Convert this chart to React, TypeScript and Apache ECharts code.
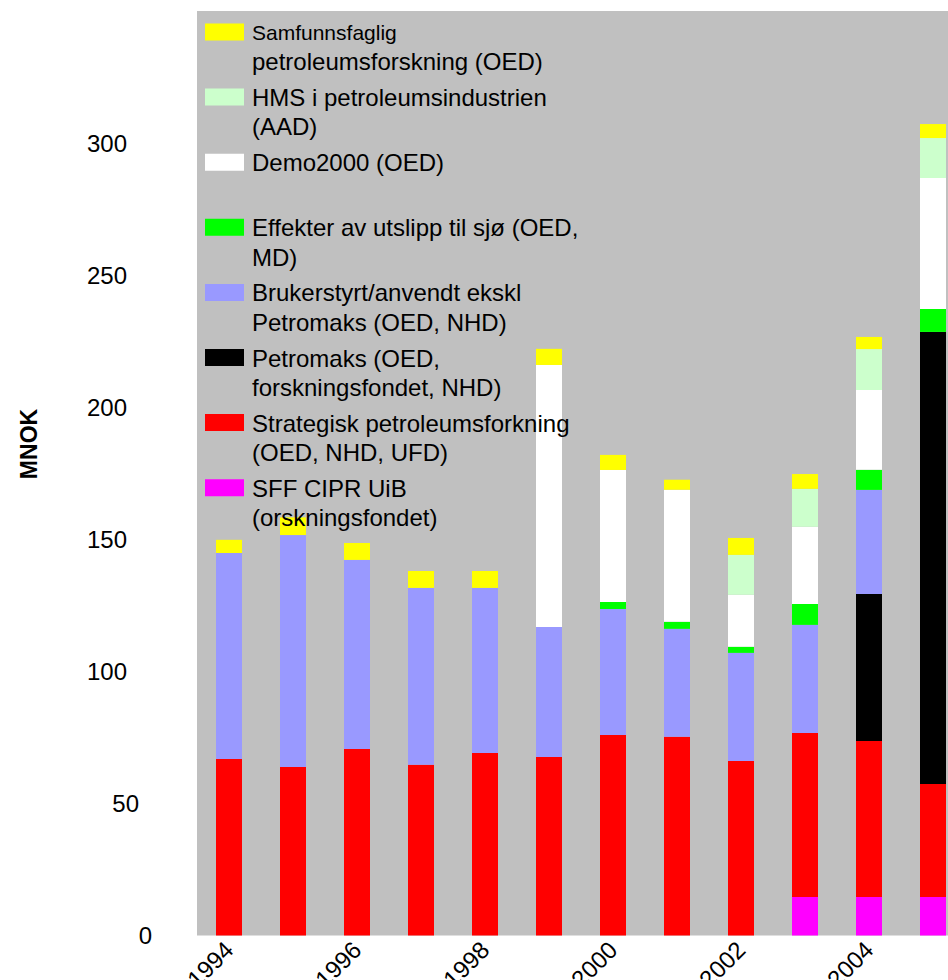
import React, { useEffect, useRef } from "react";
import * as echarts from "echarts";

const years = ["1994", "1995", "1996", "1997", "1998", "1999", "2000", "2001", "2002", "2003", "2004", "2005"];

// stack order: bottom to top
const sffCipr = [0, 0, 0, 0, 0, 0, 0, 0, 0, 14.6, 14.6, 14.6];
const strategisk = [66.8, 63.8, 70.6, 64.6, 69.1, 67.6, 75.9, 75.2, 66.1, 62.1, 59.0, 42.8];
const petromaks = [0, 0, 0, 0, 0, 0, 0, 0, 0, 0, 55.7, 171.1];
const brukerstyrt = [78.0, 87.8, 71.6, 67.0, 62.5, 49.2, 47.7, 40.9, 40.9, 40.9, 39.4, 0];
const effekter = [0, 0, 0, 0, 0, 0, 2.65, 2.65, 2.3, 7.9, 7.6, 8.7];
const demo2000 = [0, 0, 0, 0, 0, 99.2, 50.0, 50.0, 19.7, 29.2, 30.2, 49.6];
const hms = [0, 0, 0, 0, 0, 0, 0, 0, 15.1, 14.4, 15.5, 15.1];
const samfunnsfaglig = [5.0, 6.7, 6.4, 6.4, 6.4, 6.1, 5.7, 3.8, 6.4, 5.6, 4.6, 5.3];

const seriesNames = [
  "SFF CIPR UiB (orskningsfondet)",
  "Strategisk petroleumsforkning (OED, NHD, UFD)",
  "Petromaks (OED, forskningsfondet, NHD)",
  "Brukerstyrt/anvendt ekskl Petromaks (OED, NHD)",
  "Effekter av utslipp til sjø (OED, MD)",
  "Demo2000 (OED)",
  "HMS i petroleumsindustrien (AAD)",
  "Samfunnsfaglig petroleumsforskning (OED)",
];
const seriesData = [sffCipr, strategisk, petromaks, brukerstyrt, effekter, demo2000, hms, samfunnsfaglig];
const seriesColors = ["#FF00FF", "#FF0000", "#000000", "#9999FF", "#00FF00", "#FFFFFF", "#CCFFCC", "#FFFF00"];

// legend, top to bottom (index into series), with line-broken labels
const legendOrder = [7, 6, 5, 4, 3, 2, 1, 0];
const legendLines: Record<number, string[]> = {
  7: ["Samfunnsfaglig", "petroleumsforskning (OED)"],
  6: ["HMS i petroleumsindustrien", "(AAD)"],
  5: ["Demo2000 (OED)", ""],
  4: ["Effekter av utslipp til sjø (OED,", "MD)"],
  3: ["Brukerstyrt/anvendt ekskl", "Petromaks (OED, NHD)"],
  2: ["Petromaks (OED,", "forskningsfondet, NHD)"],
  1: ["Strategisk petroleumsforkning", "(OED, NHD, UFD)"],
  0: ["SFF CIPR UiB", "(orskningsfondet)"],
};

const FONT = "'Liberation Sans', Arial, Helvetica, sans-serif";

export default function App() {
  const ref = useRef<HTMLDivElement>(null);
  useEffect(() => {
    if (!ref.current) return;
    const chart = echarts.init(ref.current, undefined, { renderer: "svg" });

    const graphics: any[] = [];
    legendOrder.forEach((idx, pos) => {
      const cy = 32.5 + 65.1 * pos;
      graphics.push({
        type: "rect",
        z: 100,
        shape: { x: 205, y: cy - 9, width: 39, height: 17 },
        style: { fill: seriesColors[idx] },
      });
      legendLines[idx].forEach((line, li) => {
        if (!line) return;
        const small = idx === 7 && li === 0;
        graphics.push({
          type: "text",
          z: 100,
          x: 252,
          y: cy + li * 29.3,
          style: {
            text: line,
            fontSize: small ? 21 : 24,
            fontFamily: FONT,
            fill: "#000",
            align: "left",
            verticalAlign: "middle",
          },
        });
      });
    });
    graphics.push({
      type: "text",
      z: 100,
      x: 29,
      y: 444,
      rotation: Math.PI / 2,
      style: {
        text: "MNOK",
        fontSize: 23,
        fontWeight: "bold",
        fontFamily: FONT,
        fill: "#000",
        align: "center",
        verticalAlign: "middle",
      },
    });

    chart.setOption({
      animation: false,
      backgroundColor: "#FFFFFF",
      textStyle: { fontFamily: FONT },
      grid: {
        left: 197,
        top: 11,
        right: -17,
        bottom: 44.5,
        containLabel: false,
        outerBoundsMode: "none",
        show: true,
        backgroundColor: "#C0C0C0",
        borderWidth: 0,
      },
      xAxis: {
        type: "category",
        data: years,
        axisLine: { show: false },
        axisTick: { show: false },
        splitLine: { show: false },
        axisLabel: {
          interval: 1,
          rotate: 45,
          margin: 10,
          fontSize: 24,
          color: "#000",
          fontFamily: FONT,
        },
      },
      yAxis: {
        type: "value",
        min: 0,
        max: 350,
        interval: 50,
        axisLine: { show: false },
        axisTick: { show: false },
        splitLine: { show: false },
        axisLabel: {
          margin: 45,
          color: "#000",
          fontSize: 24,
          fontFamily: FONT,
          formatter: (v: number) => (v >= 350 ? "" : `{d${String(v).length}|${v}}`),
          rich: {
            d1: { fontSize: 24, fontFamily: FONT, color: "#000", padding: [0, 0, 0, 0] },
            d2: { fontSize: 24, fontFamily: FONT, color: "#000", padding: [0, 13, 0, 0] },
            d3: { fontSize: 24, fontFamily: FONT, color: "#000", padding: [0, 25, 0, 0] },
          },
        },
      },
      series: seriesData.map((d, i) => ({
        type: "bar",
        name: seriesNames[i],
        stack: "total",
        data: d,
        barWidth: 26,
        itemStyle: { color: seriesColors[i] },
        emphasis: { disabled: true },
      })),
      graphic: graphics,
    });

    return () => chart.dispose();
  }, []);

  return (
    <div
      ref={ref}
      style={{ position: "fixed", left: 0, top: 0, width: 948, height: 980 }}
    />
  );
}
